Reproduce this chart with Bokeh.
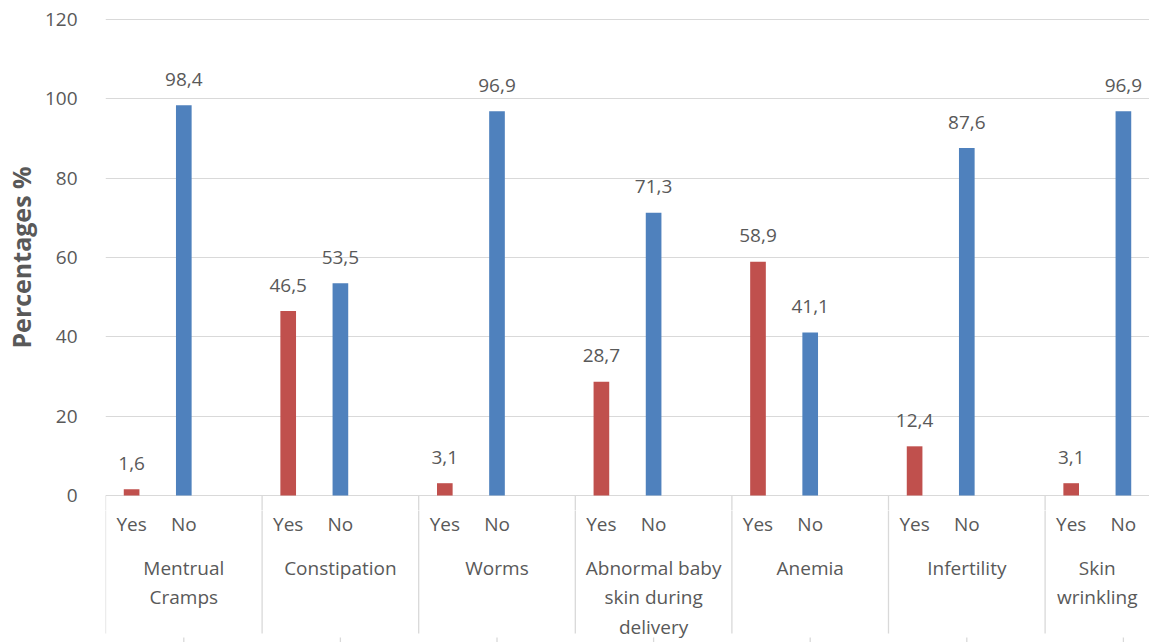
from bokeh.plotting import figure
from bokeh.layouts import column
from bokeh.models import Range1d, FixedTicker, ColumnDataSource
from bokeh.core.properties import value
from bokeh.embed import file_html
from bokeh.resources import INLINE

# Survey answers per perceived consequence (percent of respondents)
groups = ["Mentrual\nCramps", "Constipation", "Worms",
          "Abnormal baby\nskin during\ndelivery", "Anemia", "Infertility",
          "Skin\nwrinkling"]
answers = ["Yes", "No"]
yes_pct = [1.6, 46.5, 3.1, 28.7, 58.9, 12.4, 3.1]
no_pct = [98.4, 53.5, 96.9, 71.3, 41.1, 87.6, 96.9]
y_ticks = [0, 20, 40, 60, 80, 100, 120]
y_title = "Percentages %"

FONT = "Open Sans"
TEXT = "#595959"
GRID = "#D9D9D9"
RED = "#C0504D"
BLUE = "#4F81BD"

SLOTS = 3          # Yes, No and an empty slot per group
X_END = 20.0       # visible part of the category axis
LEFT = 104         # room for the value axis
Y_START, Y_END = -3.781, 123.781   # value range of the upper panel


def fmt(v):
    return f"{v:.1f}".replace(".", ",")


# bar positions in slot units
bar_x, bar_top, bar_color, bar_text = [], [], [], []
for g in range(len(groups)):
    for k, (vals, col) in enumerate(zip([yes_pct, no_pct], [RED, BLUE])):
        bar_x.append(g * SLOTS + k + 0.5)
        bar_top.append(vals[g])
        bar_color.append(col)
        bar_text.append(fmt(vals[g]))

bars = ColumnDataSource(dict(x=bar_x, top=bar_top, color=bar_color, label=bar_text))
x_range = Range1d(0, X_END)
sep_x = [g * SLOTS for g in range(len(groups))]

# ---- plot area with bars -------------------------------------------------
p = figure(width=1149, height=510, output_backend="svg", toolbar_location=None,
           x_range=x_range, y_range=Range1d(Y_START, Y_END),
           min_border_left=LEFT, min_border_right=0, min_border_top=4, min_border_bottom=0)
p.outline_line_color = None
p.border_fill_color = "white"
p.xaxis.visible = False
p.xgrid.visible = False
p.yaxis.ticker = FixedTicker(ticks=y_ticks)
p.ygrid.ticker = FixedTicker(ticks=y_ticks)
p.ygrid.grid_line_color = GRID
p.ygrid.grid_line_width = 1
p.yaxis.axis_line_color = None
p.yaxis.major_tick_line_color = None
p.yaxis.minor_tick_line_color = None
p.yaxis.major_label_standoff = 22
p.yaxis.major_label_text_font = FONT
p.yaxis.major_label_text_font_size = "19px"
p.yaxis.major_label_text_color = TEXT
p.yaxis.axis_label = y_title
p.yaxis.axis_label_text_font = FONT
p.yaxis.axis_label_text_font_size = "25px"
p.yaxis.axis_label_text_font_style = "bold"
p.yaxis.axis_label_text_color = TEXT
p.yaxis.axis_label_standoff = 4

# top of the group separators, just under the baseline
p.segment(x0=sep_x, y0=[0] * len(sep_x), x1=sep_x, y1=[Y_START] * len(sep_x),
          line_color=GRID, line_width=1.3)

p.vbar(x="x", top="top", bottom=0, width=0.3, fill_color="color", line_color=None, source=bars)
p.text(x="x", y="top", text="label", source=bars, text_align="center",
       text_baseline="alphabetic", y_offset=-26, text_font=value(FONT),
       text_font_size="19px", text_color=TEXT)

# ---- category axis: Yes/No row, group names and separators --------------
# vertical units here are pixels below the baseline
ans_x = [g * SLOTS + k + 0.5 for g in range(len(groups)) for k in range(len(answers))]
ans_text = [a for _ in groups for a in answers]
ans_src = ColumnDataSource(dict(x=ans_x, y=[-28] * len(ans_x), text=ans_text))

grp_x = [(g * SLOTS + min(g * SLOTS + SLOTS, X_END)) / 2 for g in range(len(groups))]
grp_src = ColumnDataSource(dict(x=grp_x, y=[-59] * len(groups), text=groups))

sep_src = ColumnDataSource(dict(x0=sep_x, y0=[-14] * len(sep_x), x1=sep_x, y1=[-138] * len(sep_x)))
mark_x = [g * SLOTS + 1.5 for g in range(len(groups))]
mark_src = ColumnDataSource(dict(x0=mark_x, y0=[-142] * len(mark_x), x1=mark_x, y1=[-147] * len(mark_x)))

c = figure(width=1149, height=132, output_backend="svg", toolbar_location=None,
           x_range=x_range, y_range=Range1d(-147, -15),
           min_border_left=LEFT, min_border_right=0, min_border_top=0, min_border_bottom=0)
c.outline_line_color = None
c.border_fill_color = "white"
c.axis.visible = False
c.grid.visible = False

c.segment(x0="x0", y0="y0", x1="x1", y1="y1", source=sep_src, line_color=GRID, line_width=1.3)
c.segment(x0="x0", y0="y0", x1="x1", y1="y1", source=mark_src, line_color=GRID, line_width=1.3)
c.text(x="x", y="y", text="text", source=ans_src, text_align="center",
       text_baseline="middle", text_font=value(FONT),
       text_font_size="19px", text_color=TEXT)
c.text(x="x", y="y", text="text", source=grp_src, text_align="center",
       text_baseline="top", text_line_height=1.15, text_font=value(FONT),
       text_font_size="19px", text_color=TEXT)

layout = column(p, c, spacing=0)
open("out.html", "w").write(file_html(layout, INLINE))
